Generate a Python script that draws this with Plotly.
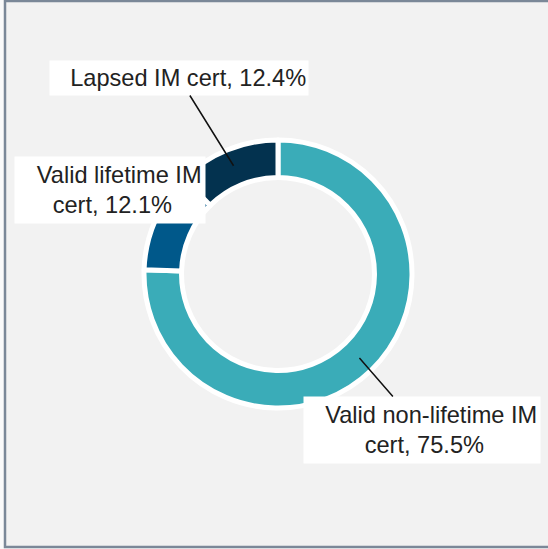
import math
import plotly.graph_objects as go

# ---- data ----
labels = ["Valid non-lifetime IM cert", "Valid lifetime IM cert", "Lapsed IM cert"]
values = [75.5, 12.1, 12.4]
colors = ["#3aacb8", "#00588a", "#03324f"]
label_lines = [["Valid non-lifetime IM", "cert, 75.5%"],
               ["Valid lifetime IM", "cert, 12.1%"],
               ["Lapsed IM cert, 12.4%"]]

W, H = 548, 549
CX, CY, R = 278, 274, 134


def px_x(x):
    return x / W


def px_y(y):
    return 1 - y / H


fig = go.Figure()
fig.add_trace(go.Pie(
    labels=labels,
    values=values,
    hole=0.72,
    sort=False,
    direction="clockwise",
    rotation=0,
    marker=dict(colors=colors, line=dict(color="white", width=5)),
    textinfo="none",
    hoverinfo="label+percent",
    showlegend=False,
    domain=dict(x=[px_x(CX - R), px_x(CX + R)], y=[px_y(CY + R), px_y(CY - R)]),
))

# label boxes: (center x, center y, width, height) in pixels
boxes = [(422, 430, 236, 66), (110, 190, 190, 66), (179, 78, 258, 34)]
show_arrow = [True, False, True]
FONT = dict(family="Liberation Sans, Arial", size=23.6, color="#222222")
PAD1 = "\u00a0\u2002"
PAD2 = "\u2009"


def fmt(lines):
    return "<br>".join([PAD1 + lines[0]] + [PAD2 + s for s in lines[1:]])


total = sum(values)
cum = 0
annotations = []
for i, v in enumerate(values):
    mid = (cum + v / 2) / total * 2 * math.pi
    cum += v
    r_t = 117
    tx = CX + r_t * math.sin(mid)
    ty = CY - r_t * math.cos(mid)
    bx, by, bw, bh = boxes[i]
    common = dict(
        text=fmt(label_lines[i]), bgcolor="white", borderpad=0,
        width=bw, height=bh, align="center", valign="middle", font=FONT,
        xref="paper", yref="paper",
    )
    if show_arrow[i]:
        annotations.append(dict(
            x=px_x(tx), y=px_y(ty), ax=bx - tx, ay=by - ty,
            showarrow=True, arrowhead=0, arrowwidth=1.5, arrowcolor="#111111",
            **common,
        ))
    else:
        annotations.append(dict(
            x=px_x(bx), y=px_y(by), xanchor="center", yanchor="middle",
            showarrow=False, **common,
        ))

fig.update_layout(
    width=W, height=H,
    margin=dict(l=0, r=0, t=0, b=0),
    paper_bgcolor="#fafafa",
    annotations=annotations,
    shapes=[dict(
        type="rect", xref="paper", yref="paper", layer="below",
        x0=px_x(5), x1=1.05, y0=px_y(547), y1=px_y(1),
        line=dict(color="#7b8898", width=2.5), fillcolor="#f2f2f2",
    )],
)

fig.write_html(
    "out.html",
    config={"displayModeBar": False},
    post_script="document.body.style.margin='0';document.body.style.overflow='hidden';",
)
